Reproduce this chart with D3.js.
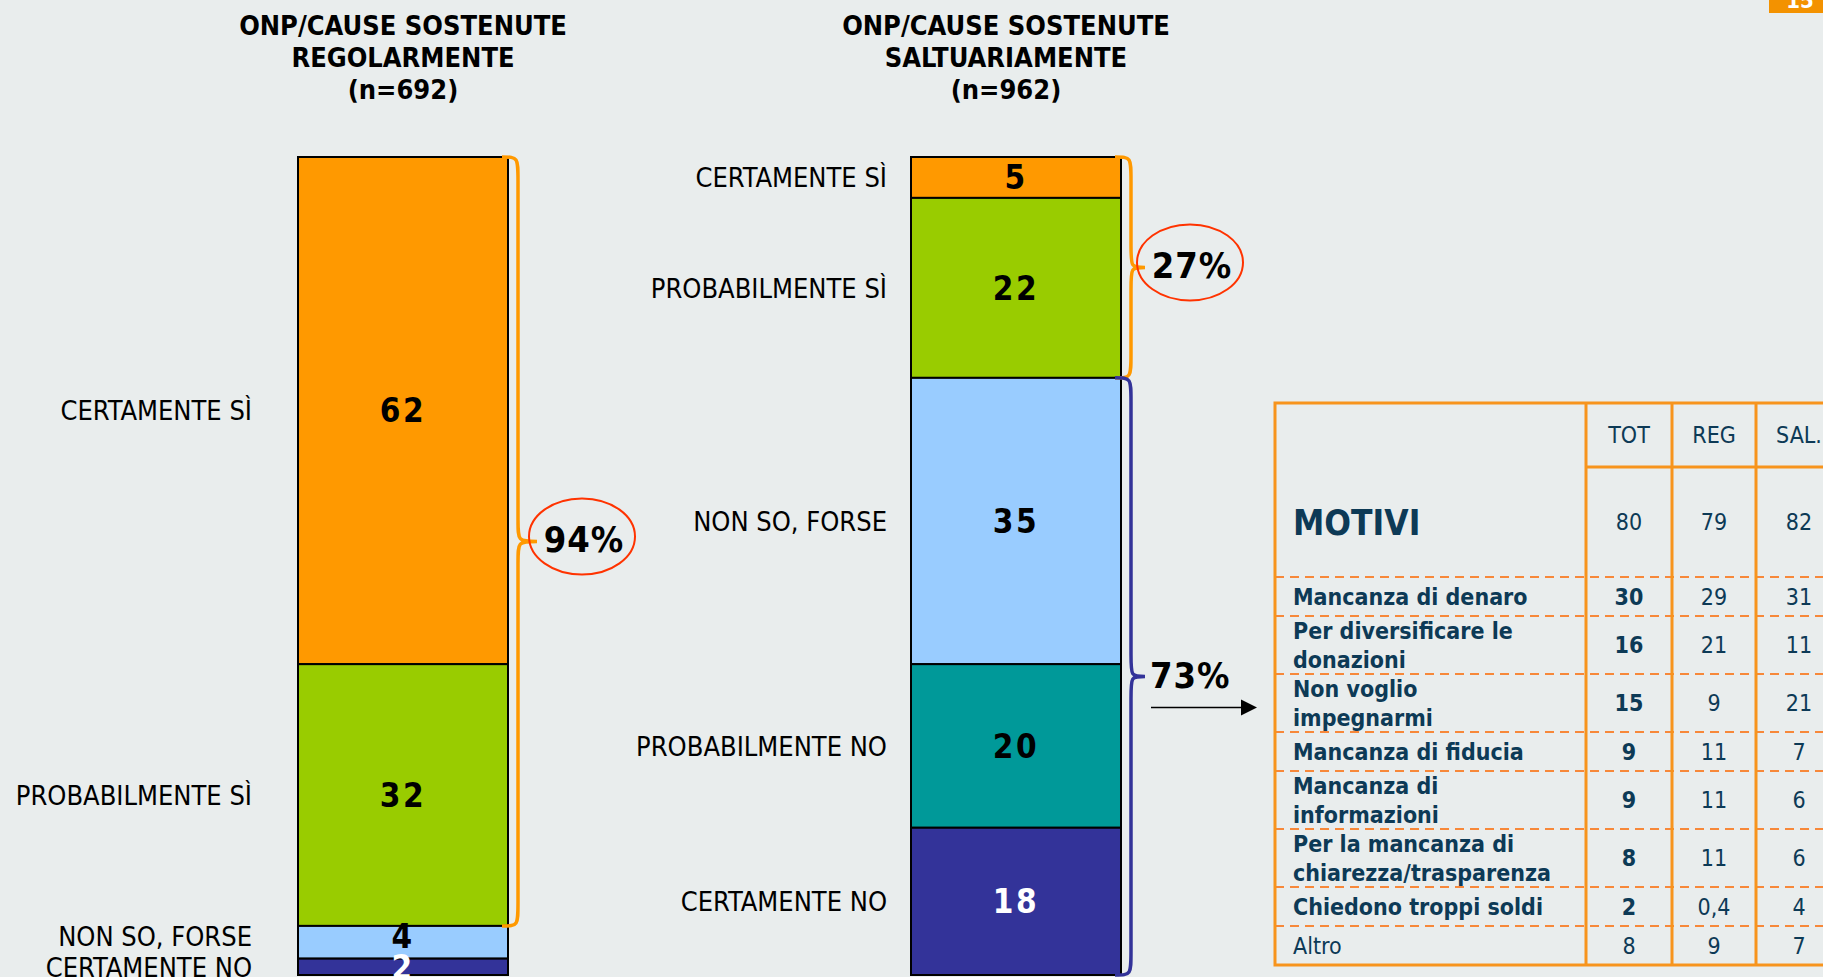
<!DOCTYPE html>
<html>
<head>
  <meta charset="UTF-8">
  <title>ONP / cause sostenute</title>
  <style>
    body {
        margin: 0;
        background-color: #e9eded;
        font-family: "DejaVu Sans", Verdana, sans-serif;
    }
    svg { display: block; }
    svg text { font-stretch: condensed; }
  </style>
</head>
<body>
<svg></svg>
<script src="https://d3js.org/d3.v7.min.js"></script>
<script>

// data
let categories = ["CERTAMENTE SÌ", "PROBABILMENTE SÌ", "NON SO, FORSE", "PROBABILMENTE NO", "CERTAMENTE NO"];
let colors = ["#ff9900", "#99cc00", "#99ccff", "#009999", "#333399"];
let regValues = [62, 32, 4, null, 2];   // regolarmente (n=692)
let salValues = [5, 22, 35, 20, 18];    // saltuariamente (n=962)
let titles = [["ONP/CAUSE SOSTENUTE", "REGOLARMENTE", "(n=692)"],
              ["ONP/CAUSE SOSTENUTE", "SALTUARIAMENTE", "(n=962)"]];

// braces: [bar, from, to, label]
let braces = [["REG", 0, 94, "94%"], ["SAL", 0, 27, "27%"], ["SAL", 27, 100, "73%"]];

// table of reasons
let tableHeader = ["TOT", "REG", "SAL."];
let motiviTotals = [80, 79, 82];
let motivi = [["Mancanza di denaro"], ["Per diversificare le", "donazioni"], ["Non voglio", "impegnarmi"],
              ["Mancanza di fiducia"], ["Mancanza di", "informazioni"], ["Per la mancanza di", "chiarezza/trasparenza"],
              ["Chiedono troppi soldi"], ["Altro"]];
let totVals = [30, 16, 15, 9, 9, 8, 2, 8];
let regVals = [29, 21, 9, 11, 11, 11, 0.4, 9];
let salVals = [31, 11, 21, 7, 6, 6, 4, 7];

//dimensions
let width = 1823, height = 977;

let svg = d3.select("svg")
    .attr("width", width)
    .attr("height", height);

let fmt = v => String(v).replace(".", ",");

// shared vertical scale for both stacked bars
let y = d3.scaleLinear().domain([0, 100]).range([157, 975]);
let xBar = d3.scaleOrdinal().domain(["REG", "SAL"]).range([298, 911]);
let barW = 210;
let labelGap = {REG: 46, SAL: 24};

let bars = [{key: "REG", values: regValues}, {key: "SAL", values: salValues}];

bars.forEach((b, bi) => {
  let x0 = xBar(b.key);
  let cum = 0;
  let segs = b.values.map((v, i) => {
    let s = {cat: categories[i], color: colors[i], v: v, y0: cum};
    cum += (v || 0);
    s.y1 = cum;
    return s;
  }).filter(s => s.v != null);

  // thin segments get their texts nudged up a little, like the slide
  let mid = d => (y(d.y0) + y(d.y1)) / 2 - ((d.v < 5 && d.y0 < 97) ? 6 : 0);

  let g = svg.append("g").attr("class", "bar-" + b.key);

  g.selectAll("rect")
    .data(segs)
    .enter()
    .append("rect")
    .attr("x", x0)
    .attr("y", d => y(d.y0))
    .attr("width", barW)
    .attr("height", d => y(d.y1) - y(d.y0))
    .attr("fill", d => d.color)
    .attr("stroke", "#000")
    .attr("stroke-width", 2);

  // values inside the segments
  g.selectAll("text.val")
    .data(segs)
    .enter()
    .append("text")
    .attr("class", "val")
    .attr("x", x0 + barW / 2)
    .attr("y", mid)
    .attr("dy", "0.36em")
    .attr("text-anchor", "middle")
    .attr("font-weight", "bold")
    .attr("font-size", 33)
    .attr("letter-spacing", 2.5)
    .attr("fill", d => (d.color == "#333399") ? "#fff" : "#000")
    .text(d => d.v);

  // category labels on the left
  g.selectAll("text.cat")
    .data(segs)
    .enter()
    .append("text")
    .attr("class", "cat")
    .attr("x", x0 - labelGap[b.key])
    .attr("y", mid)
    .attr("dy", "0.36em")
    .attr("text-anchor", "end")
    .attr("font-size", 27)
    .attr("fill", "#000")
    .text(d => d.cat);

  // title
  svg.append("text")
    .attr("x", x0 + barW / 2 - bi * 10)
    .attr("y", 35)
    .attr("text-anchor", "middle")
    .attr("font-weight", "bold")
    .attr("font-size", 27)
    .selectAll("tspan")
    .data(titles[bi])
    .enter()
    .append("tspan")
    .attr("x", x0 + barW / 2 - bi * 10)
    .attr("dy", (d, i) => i == 0 ? 0 : 32)
    .text(d => d);
});

// curly braces
function bracePath(x0, xv, xt, y0, y1) {
  let ym = (y0 + y1) / 2, r = 24, rt = 22;
  return `M${x0},${y0} C${xv},${y0} ${xv},${y0} ${xv},${y0 + r} ` +
         `L${xv},${ym - rt} C${xv},${ym} ${xv},${ym} ${xt},${ym} ` +
         `C${xv},${ym} ${xv},${ym} ${xv},${ym + rt} ` +
         `L${xv},${y1 - r} C${xv},${y1} ${xv},${y1} ${x0},${y1}`;
}

braces.forEach(([key, from, to, label], i) => {
  let xr = xBar(key) + barW;
  let xt = xr + (key == "REG" ? 29 : 24);
  let ym = (y(from) + y(to)) / 2;
  let col = (i == 2) ? "#333399" : "#ff9900";

  svg.append("path")
    .attr("d", bracePath(xr - 6, xr + 10, xt, y(from), y(to)))
    .attr("fill", "none")
    .attr("stroke", col)
    .attr("stroke-width", 3.5);

  if (i < 2) {
    svg.append("ellipse")
      .attr("cx", xt + 45)
      .attr("cy", ym - 5)
      .attr("rx", 53)
      .attr("ry", 38)
      .attr("fill", "none")
      .attr("stroke", "#ff3300")
      .attr("stroke-width", 2);
    svg.append("text")
      .attr("x", xt + 47)
      .attr("y", ym + 11)
      .attr("text-anchor", "middle")
      .attr("font-weight", "bold")
      .attr("font-size", 36)
      .attr("letter-spacing", 1)
      .text(label);
  } else {
    svg.append("text")
      .attr("x", xt + 5)
      .attr("y", ym + 12)
      .attr("font-weight", "bold")
      .attr("font-size", 36)
      .attr("letter-spacing", 1)
      .text(label);
    // arrow towards the table
    svg.append("line")
      .attr("x1", xt + 6).attr("x2", xt + 98)
      .attr("y1", ym + 31).attr("y2", ym + 31)
      .attr("stroke", "#000")
      .attr("stroke-width", 1.5);
    svg.append("path")
      .attr("d", `M${xt + 96},${ym + 23} L${xt + 112},${ym + 31} L${xt + 96},${ym + 39} Z`)
      .attr("fill", "#000");
  }
});

// ---- table ----
let tLeft = 1275, tTop = 403, tRight = 1842;
let colX = [1586, 1672, 1756, tRight];
let headBottom = 467, motiviBottom = 577;
let navy = "#0d3a56", tOrange = "#f7941d";

// row boundaries from line counts
let rowY = [motiviBottom];
motivi.forEach(m => rowY.push(rowY[rowY.length - 1] + (m.length == 1 ? 39 : 58)));
let tBottom = rowY[rowY.length - 1];

let tg = svg.append("g").attr("id", "table");

// dashed row separators
tg.selectAll("line.sep")
  .data(rowY.slice(0, -1))
  .enter()
  .append("line")
  .attr("class", "sep")
  .attr("x1", tLeft).attr("x2", tRight)
  .attr("y1", d => d).attr("y2", d => d)
  .attr("stroke", "#f7883a")
  .attr("stroke-width", 2)
  .attr("stroke-dasharray", "9,6");

// header underline and column lines
tg.append("line")
  .attr("x1", colX[0]).attr("x2", tRight)
  .attr("y1", headBottom).attr("y2", headBottom)
  .attr("stroke", tOrange).attr("stroke-width", 3);

tg.selectAll("line.col")
  .data(colX.slice(0, 3))
  .enter()
  .append("line")
  .attr("class", "col")
  .attr("x1", d => d).attr("x2", d => d)
  .attr("y1", tTop).attr("y2", tBottom)
  .attr("stroke", tOrange).attr("stroke-width", 3);

tg.append("rect")
  .attr("x", tLeft).attr("y", tTop)
  .attr("width", tRight - tLeft).attr("height", tBottom - tTop)
  .attr("fill", "none")
  .attr("stroke", tOrange).attr("stroke-width", 3);

let colCenter = i => (colX[i] + colX[i + 1]) / 2;

tg.selectAll("text.head")
  .data(tableHeader)
  .enter()
  .append("text")
  .attr("x", (d, i) => colCenter(i))
  .attr("y", (tTop + headBottom) / 2)
  .attr("dy", "0.36em")
  .attr("text-anchor", "middle")
  .attr("font-size", 23)
  .attr("fill", navy)
  .text(d => d);

tg.append("text")
  .attr("x", 1293)
  .attr("y", (headBottom + motiviBottom) / 2)
  .attr("dy", "0.36em")
  .attr("font-weight", "bold")
  .attr("font-size", 35)
  .attr("fill", navy)
  .text("MOTIVI");

tg.selectAll("text.tot")
  .data(motiviTotals)
  .enter()
  .append("text")
  .attr("x", (d, i) => colCenter(i))
  .attr("y", (headBottom + motiviBottom) / 2)
  .attr("dy", "0.36em")
  .attr("text-anchor", "middle")
  .attr("font-size", 23)
  .attr("fill", navy)
  .text(d => d);

motivi.forEach((lines, r) => {
  let cy = (rowY[r] + rowY[r + 1]) / 2;
  let isAltro = (r == motivi.length - 1);
  tg.append("text")
    .attr("x", 1293)
    .attr("y", cy)
    .attr("font-weight", isAltro ? "normal" : "bold")
    .attr("font-size", 23)
    .attr("fill", navy)
    .selectAll("tspan")
    .data(lines)
    .enter()
    .append("tspan")
    .attr("x", 1293)
    .attr("dy", (d, i) => i == 0 ? (0.36 - (lines.length - 1) * 0.62) + "em" : "1.24em")
    .text(d => d);

  [totVals[r], regVals[r], salVals[r]].forEach((v, c) => {
    tg.append("text")
      .attr("x", colCenter(c))
      .attr("y", cy)
      .attr("dy", "0.36em")
      .attr("text-anchor", "middle")
      .attr("font-weight", (c == 0 && !isAltro) ? "bold" : "normal")
      .attr("font-size", 23)
      .attr("fill", navy)
      .text(fmt(v));
  });
});

// page number tab, top right
svg.append("rect")
  .attr("x", 1769).attr("y", 0)
  .attr("width", 54).attr("height", 13)
  .attr("fill", "#f39200");
svg.append("text")
  .attr("x", 1800).attr("y", 8)
  .attr("text-anchor", "middle")
  .attr("font-weight", "bold")
  .attr("font-size", 22)
  .attr("fill", "#fff")
  .text("15");

</script>
</body>
</html>
